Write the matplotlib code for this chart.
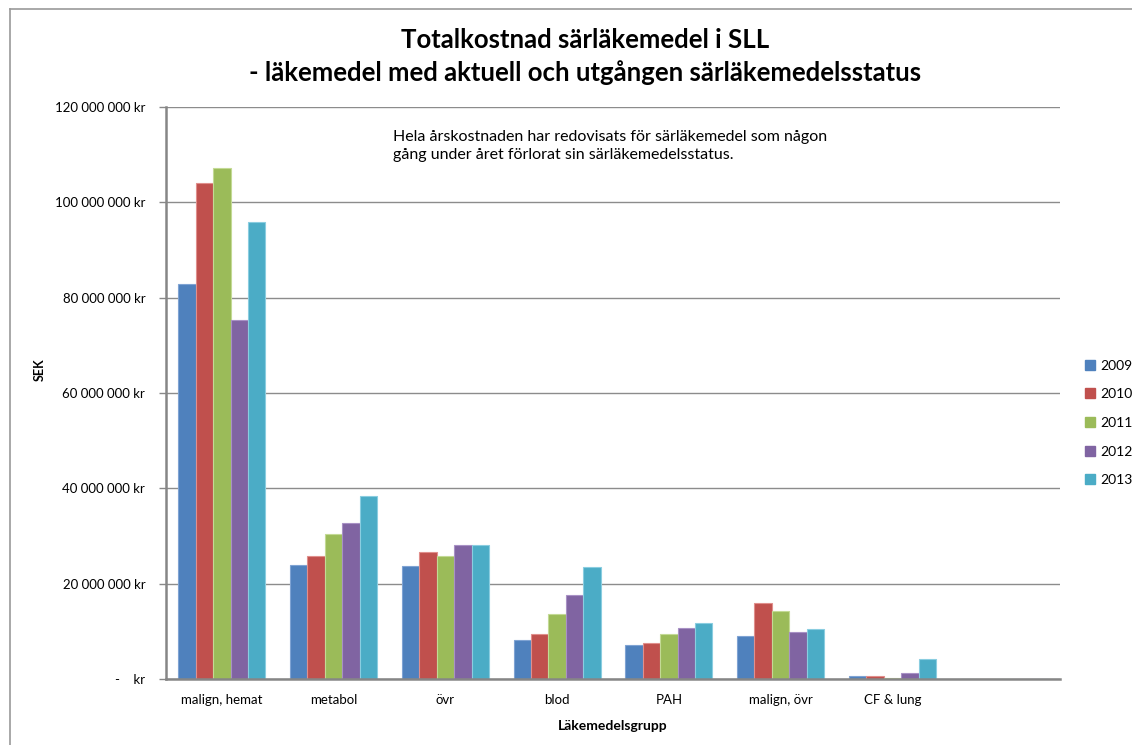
import matplotlib
matplotlib.use("Agg")
import matplotlib.pyplot as plt
from matplotlib.lines import Line2D
from matplotlib.patches import Patch
import numpy as np

plt.rcParams['font.family'] = ['Lato', 'DejaVu Sans']

categories = ["malign, hemat", "metabol", "övr", "blod", "PAH", "malign, övr", "CF & lung", ""]
years = ["2009", "2010", "2011", "2012", "2013"]
# costs in SEK per drug group and year (last slot is empty)
v2009 = [82.9e6, 24.0e6, 23.8e6, 8.1e6, 7.1e6, 9.0e6, 0.6e6, 0]
v2010 = [104.0e6, 25.9e6, 26.7e6, 9.5e6, 7.6e6, 15.9e6, 0.6e6, 0]
v2011 = [107.2e6, 30.5e6, 25.9e6, 13.7e6, 9.5e6, 14.2e6, 0.3e6, 0]
v2012 = [75.3e6, 32.8e6, 28.1e6, 17.6e6, 10.7e6, 9.8e6, 1.3e6, 0]
v2013 = [95.9e6, 38.3e6, 28.1e6, 23.5e6, 11.7e6, 10.5e6, 4.3e6, 0]
series = [v2009, v2010, v2011, v2012, v2013]
colors = ["#4F81BD", "#C0504D", "#9BBB59", "#8064A2", "#4BACC6"]
edges = ["#7FA3D3", "#E08F8C", "#C3DA95", "#A891C5", "#8ACDE0"]

yticks = np.arange(0, 120e6 + 1, 20e6)

def kr(v):
    if v == 0:
        return "-    kr"
    return f"{int(v):,}".replace(",", " ") + " kr"

fig = plt.figure(figsize=(11.32, 7.45), dpi=100)
W, H = 1132, 745

# outer chart frame
fig.add_artist(Line2D([10 / W, 10 / W], [0, 1 - 9 / H], transform=fig.transFigure,
                      color="#9a9a9a", lw=1.2))
fig.add_artist(Line2D([10 / W, 1], [1 - 9 / H, 1 - 9 / H], transform=fig.transFigure,
                      color="#9a9a9a", lw=1.2))

ax = fig.add_axes([166 / W, 1 - 679 / H, (1060 - 166) / W, (679 - 107) / H])

x = np.arange(len(categories))
bw = 0.156
for i, (vals, c, ec) in enumerate(zip(series, colors, edges)):
    ax.bar(x + (i - 2) * bw, vals, width=bw, color=c, edgecolor=ec, linewidth=0.8,
           zorder=3, label=years[i])

ax.set_xlim(-0.5, len(categories) - 0.5)
ax.set_ylim(0, 120e6)
ax.set_yticks(yticks)
ax.set_yticklabels([kr(v) for v in yticks], fontsize=9.5)
ax.set_xticks(x)
ax.set_xticklabels(categories, fontsize=9.5)
ax.tick_params(axis="x", length=0, pad=11)
ax.tick_params(axis="y", length=5, width=1, color="#888888", pad=10)
ax.grid(axis="y", color="#8c8c8c", linewidth=1, zorder=0)

for s in ["top", "right"]:
    ax.spines[s].set_visible(False)
for s in ["left", "bottom"]:
    ax.spines[s].set_color("#868686")
    ax.spines[s].set_linewidth(1.8)
    ax.spines[s].set_zorder(4)

fig.text(40 / W, 1 - 370 / H, "SEK", rotation=90, ha="center", va="center",
         fontsize=9, fontweight="bold")
ax.set_xlabel("Läkemedelsgrupp", fontsize=10, fontweight="bold", labelpad=10)

fig.text(585 / W, 1 - 40 / H, "Totalkostnad särläkemedel i SLL", ha="center", va="center",
         fontsize=18.5, fontweight="bold")
fig.text(585 / W, 1 - 73 / H, "- läkemedel med aktuell och utgången särläkemedelsstatus",
         ha="center", va="center", fontsize=18.5, fontweight="bold")

fig.text(393 / W, 1 - 146 / H,
         "Hela årskostnaden har redovisats för särläkemedel som någon\n"
         "gång under året förlorat sin särläkemedelsstatus.",
         ha="left", va="center", fontsize=11.5, linespacing=1.3)

handles = [Patch(facecolor=c, edgecolor=c, label=y) for c, y in zip(colors, years)]
fig.legend(handles=handles, loc="upper left", bbox_to_anchor=(1079 / W, 1 - 354 / H),
           frameon=False, fontsize=10, handlelength=0.75, handleheight=0.75,
           handletextpad=0.4, labelspacing=1.2, borderaxespad=0)

fig.savefig("out.png", dpi=100)
